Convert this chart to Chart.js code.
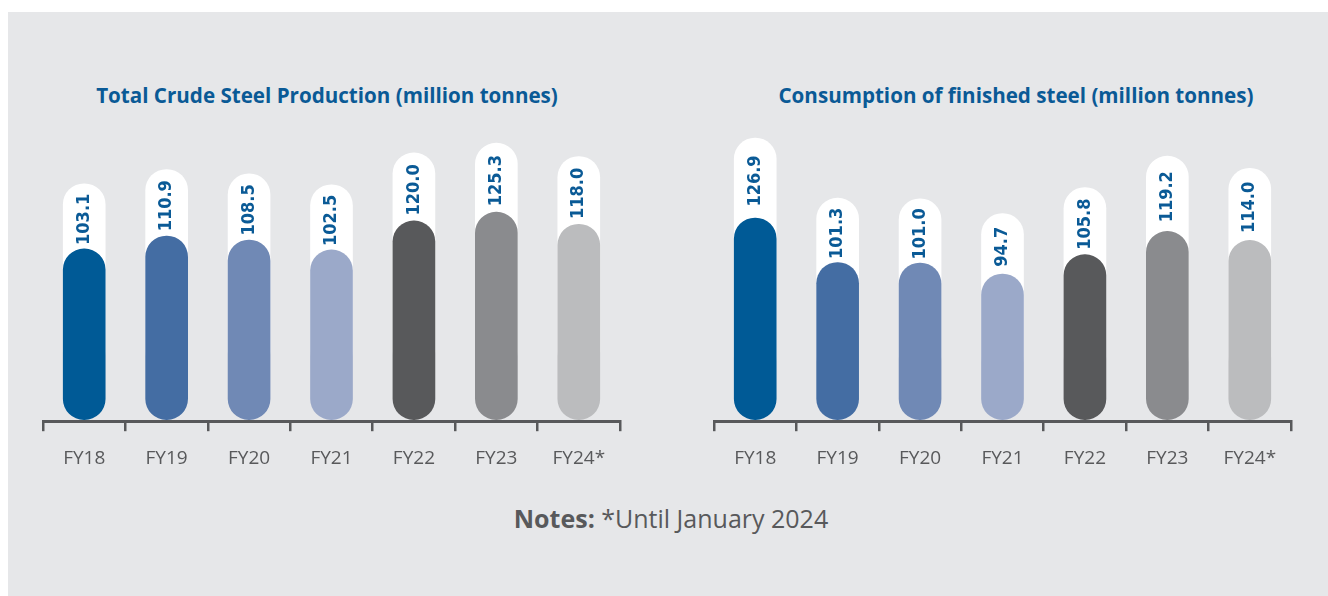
<!DOCTYPE html>
<html>
<head>
<meta charset="utf-8">
<script src="https://cdn.jsdelivr.net/npm/chart.js@4.4.1/dist/chart.umd.min.js"></script>
<style>
  html, body { margin: 0; padding: 0; background: #ffffff; }
  body { width: 1328px; height: 596px; position: relative; overflow: hidden; font-family: "Open Sans", sans-serif; }
  .panel { position: absolute; left: 8px; top: 12px; right: 0; bottom: 0; background: #e6e7e9; }
  .title { position: absolute; top: 82px; height: 26px; line-height: 26px; text-align: center;
           font-weight: 700; font-size: 20.6px; color: #0a5a96; white-space: nowrap; }
  .chart-box { position: absolute; top: 0; width: 664px; height: 489px; }
  .notes { position: absolute; left: 0; width: 1342px; top: 502px; line-height: 32px; text-align: center;
           font-size: 25px; color: #58595b; }
  .notes b { font-weight: 700; }
</style>
</head>
<body>
<div class="panel"></div>
<div class="title" style="left:27px;width:600px">Total Crude Steel Production (million tonnes)</div>
<div class="title" style="left:716px;width:600px">Consumption of finished steel (million tonnes)</div>
<div class="chart-box" style="left:0"><canvas id="chart-crude"></canvas></div>
<div class="chart-box" style="left:664px"><canvas id="chart-finished"></canvas></div>
<div class="notes"><b>Notes:</b> *Until January 2024</div>

<script>
// ── Data ───────────────────────────────────────────────────
const categories = ["FY18", "FY19", "FY20", "FY21", "FY22", "FY23", "FY24*"];
const crudeProduction = [103.1, 110.9, 108.5, 102.5, 120.0, 125.3, 118.0];
const finishedConsumption = [126.9, 101.3, 101.0, 94.7, 105.8, 119.2, 114.0];

const barColors = ["#005a96", "#446da3", "#7089b5", "#9ba9c9", "#58595b", "#8a8b8e", "#bbbcbe"];

// Rotated value labels, centred in the white pill above each bar
const valueLabels = {
  id: "valueLabels",
  afterDatasetsDraw(chart) {
    const bars = chart.getDatasetMeta(0).data;
    const pills = chart.getDatasetMeta(1).data;
    const values = chart.data.datasets[0].data;
    const ctx = chart.ctx;
    ctx.save();
    ctx.fillStyle = "#0a5a96";
    ctx.font = 'bold 18px "Liberation Sans Narrow", "DejaVu Sans Condensed", sans-serif';
    ctx.textAlign = "center";
    ctx.textBaseline = "middle";
    bars.forEach((bar, i) => {
      const y = (pills[i].y + bar.y) / 2 + 3;
      ctx.save();
      ctx.translate(bar.x, y);
      ctx.rotate(-Math.PI / 2);
      ctx.fillText(values[i].toFixed(1), 0, 0);
      ctx.restore();
    });
    ctx.restore();
  },
};

function makeChart(id, values, cfg) {
  const barStyle = { barThickness: 42, borderRadius: 21, borderSkipped: false, grouped: false };
  return new Chart(document.getElementById(id), {
    type: "bar",
    data: {
      labels: categories,
      datasets: [
        { data: values, backgroundColor: barColors, yAxisID: "y", base: cfg.base, order: 0, ...barStyle },
        { data: values, backgroundColor: "#ffffff", yAxisID: "y2", base: cfg.pillBase, order: 1, ...barStyle },
      ],
    },
    options: {
      responsive: true,
      maintainAspectRatio: false,
      animation: false,
      layout: { padding: { left: cfg.padLeft, right: cfg.padRight, top: 120, bottom: 3 } },
      plugins: { legend: { display: false }, tooltip: { enabled: false } },
      scales: {
        x: {
          offset: true,
          grid: { display: true, drawOnChartArea: false, drawTicks: true, tickLength: 10, color: "#58595b", lineWidth: 2.5 },
          border: { display: true, color: "#58595b", width: 3 },
          ticks: { color: "#58595b", padding: 16, font: { family: "Open Sans", size: 19 } },
        },
        y: { display: false, min: cfg.yMin, max: cfg.yMax },
        y2: { display: false, min: cfg.y2Min, max: cfg.y2Max },
      },
    },
    plugins: [valueLabels],
  });
}

makeChart("chart-crude", crudeProduction, {
  padLeft: 43, padRight: 44,
  yMin: -1, yMax: 181, base: 0,
  y2Min: -27, y2Max: 138, pillBase: 0,
});

makeChart("chart-finished", finishedConsumption, {
  padLeft: 50, padRight: 37,
  yMin: 10.1, yMax: 183.2, base: 11,
  y2Min: 6.2, y2Max: 134.6, pillBase: 25,
});
</script>
</body>
</html>
